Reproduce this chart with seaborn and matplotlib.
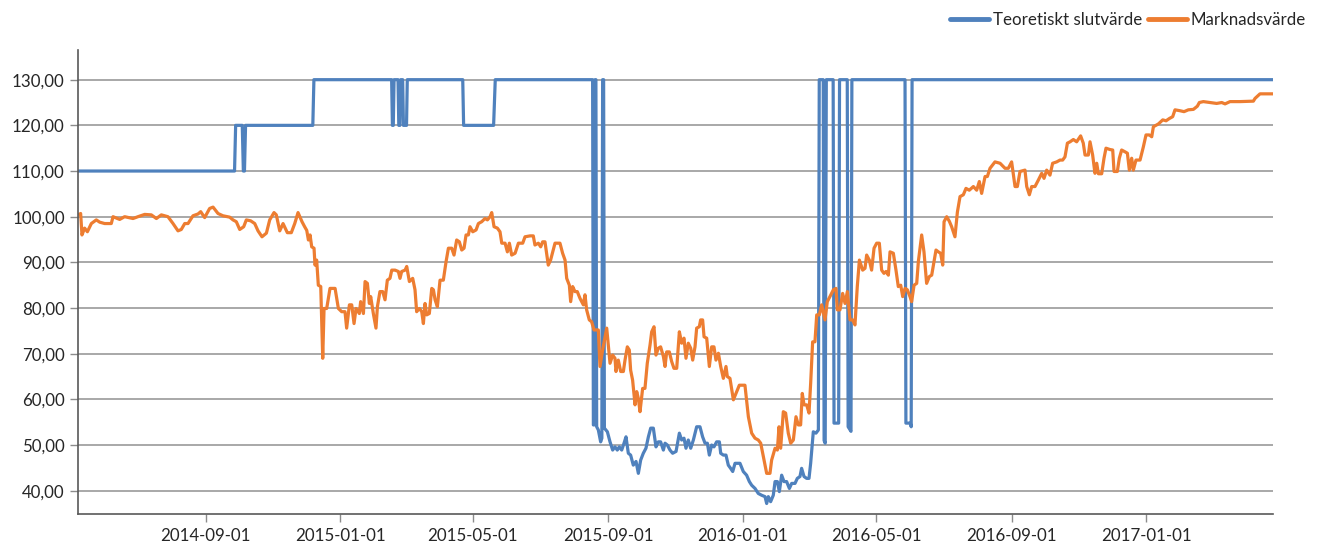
import numpy as np
import pandas as pd
import matplotlib
matplotlib.use("Agg")
import matplotlib.pyplot as plt
import matplotlib.dates as mdates
from matplotlib.ticker import FuncFormatter
import seaborn as sns

# ── Data (days counted from START) ─────────────────────────

START = "2014-05-08"
END_DAY = 1084

market_days = [
    1.0, 2.4, 3.6, 6.0, 8.5, 12.1, 16.6, 19.7, 24.2, 30.2, 31.8, 37.8, 42.3, 49.9,
    54.4, 60.5, 66.5, 71.1, 75.6, 81.6, 86.2, 90.7, 93.7, 96.8, 99.8, 104.3, 108.9,
    111.3, 114.9, 119.4, 122.5, 127.0, 131.5, 137.6, 140.6, 143.6, 146.7, 150.3,
    152.7, 156.6, 160.3, 163.3, 166.9, 170.9, 173.9, 177.8, 179.9, 183.0, 186.0,
    189.9, 193.5, 196.6, 199.6, 203.2, 205.6, 207.5, 209.0, 210.5, 212.0, 214.1,
    215.0, 216.5, 218.0, 220.2, 222.0, 223.2, 225.6, 228.6, 233.2, 236.2, 239.2,
    242.2, 243.7, 246.2, 248.3, 250.4, 252.2, 255.2, 256.4, 258.9, 260.4, 262.5,
    264.3, 265.5, 267.9, 270.3, 271.6, 273.9, 276.4, 278.5, 280.6, 283.0, 284.6,
    287.6, 290.6, 292.1, 293.6, 296.7, 298.2, 300.6, 303.6, 305.7, 307.2, 309.7,
    311.8, 313.3, 314.8, 316.3, 318.7, 320.9, 322.4, 323.9, 326.0, 328.4, 331.4,
    333.9, 336.0, 339.0, 341.1, 343.5, 345.9, 348.1, 350.2, 352.0, 354.1, 355.6,
    358.1, 361.1, 363.2, 366.2, 369.2, 371.4, 373.8, 375.3, 377.4, 380.4, 382.8,
    384.4, 387.4, 389.5, 391.3, 393.4, 396.5, 399.5, 403.4, 405.5, 410.1, 413.0,
    414.5, 417.6, 419.7, 421.5, 423.6, 426.6, 428.7, 432.7, 437.2, 439.6, 441.8,
    443.3, 445.7, 446.9, 448.7, 450.8, 452.9, 455.4, 458.4, 459.9, 461.4, 463.8,
    465.9, 468.1, 472.0, 473.5, 475.9, 479.6, 482.6, 485.0, 487.1, 488.0, 490.1,
    492.3, 494.7, 496.2, 498.3, 500.1, 501.3, 503.1, 505.3, 506.8, 508.3, 509.8,
    512.2, 514.3, 516.4, 518.9, 520.4, 522.5, 524.3, 526.4, 528.5, 531.0, 532.5,
    534.0, 536.4, 538.5, 540.6, 543.1, 545.5, 547.6, 549.7, 551.5, 553.6, 555.8,
    557.6, 559.7, 561.2, 563.6, 564.8, 566.6, 567.9, 570.3, 572.7, 574.8, 576.9,
    578.7, 580.9, 583.0, 585.4, 587.8, 589.0, 591.4, 593.0, 594.5, 596.9, 599.9,
    605.0, 608.1, 611.1, 614.1, 617.1, 619.3, 621.7, 624.7, 627.7, 629.2, 632.3,
    634.4, 635.9, 637.4, 639.8, 641.9, 644.3, 646.5, 648.9, 651.3, 653.4, 655.5,
    657.0, 658.6, 661.0, 663.1, 664.6, 666.4, 668.5, 670.1, 672.5, 674.6, 677.6,
    679.7, 682.1, 685.2, 687.6, 688.8, 691.2, 693.6, 695.8, 697.9, 700.3, 702.7,
    704.8, 706.9, 708.8, 711.8, 713.9, 715.4, 717.8, 719.9, 722.1, 724.5, 726.9,
    729.0, 731.1, 733.0, 735.1, 736.6, 739.6, 742.0, 744.1, 746.3, 748.1, 750.2,
    752.3, 754.7, 756.2, 758.4, 760.8, 762.3, 765.3, 767.4, 769.8, 772.3, 774.4,
    776.5, 778.3, 780.4, 782.5, 784.4, 785.6, 788.0, 790.4, 792.5, 795.5, 797.7,
    800.1, 803.1, 805.5, 808.5, 812.2, 815.2, 817.6, 819.7, 822.8, 824.9, 827.3,
    831.8, 836.4, 840.9, 843.9, 846.9, 850.0, 852.1, 854.5, 859.0, 860.6, 863.0,
    865.1, 868.1, 871.1, 874.2, 876.3, 878.7, 881.7, 884.1, 887.8, 890.8, 893.2,
    895.3, 897.5, 899.9, 902.9, 905.9, 909.5, 911.9, 913.5, 916.5, 918.0, 920.4,
    922.5, 924.1, 925.6, 928.6, 930.7, 932.5, 936.2, 938.6, 939.8, 942.8, 944.6,
    946.7, 949.8, 951.9, 953.7, 955.8, 957.3, 959.7, 963.4, 966.4, 968.8, 971.8,
    974.0, 975.5, 980.0, 984.0, 987.0, 990.0, 993.0, 995.1, 999.7, 1003.3, 1007.2,
    1011.8, 1015.4, 1017.2, 1020.8, 1026.9, 1032.9, 1037.5, 1040.5, 1045.0, 1054.1,
    1066.2, 1067.7, 1072.2, 1084.0,
]

market_vals = [
    100.5, 100.7, 96.0, 97.5, 96.7, 98.5, 99.3, 98.8, 98.5, 98.5, 100.0, 99.4, 100.0, 99.6,
    100.0, 100.5, 100.4, 99.6, 100.4, 100.0, 98.5, 96.9, 97.2, 98.5, 98.5, 100.2, 100.6,
    101.1, 99.8, 101.8, 102.1, 100.7, 100.2, 99.9, 99.3, 98.9, 97.2, 97.8,
    99.3, 99.1, 98.5, 96.9, 95.6, 96.4, 99.3, 100.9, 100.4, 96.9, 98.5,
    96.5, 96.5, 98.5, 100.9, 98.9, 97.8, 97.0, 94.9, 96.0, 93.4, 93.1,
    89.4, 90.5, 85.0, 84.7, 69.0, 79.9, 79.9, 84.3, 84.3, 79.9, 79.2,
    79.2, 75.6, 80.7, 80.7, 76.6, 79.9, 78.8, 81.4, 78.8, 85.8, 85.4,
    81.0, 82.5, 78.8, 75.6, 80.3, 83.6, 83.6, 81.8, 86.1, 86.5, 88.3,
    88.3, 88.0, 86.5, 88.0, 88.3, 89.1, 85.8, 86.5, 84.0, 79.2, 79.9,
    79.2, 76.6, 81.0, 78.5, 78.8, 84.3, 84.0, 81.8, 80.3, 86.1, 86.1,
    90.2, 93.1, 93.1, 91.6, 94.9, 94.5, 92.7, 93.1, 96.0, 96.0, 97.8,
    96.7, 97.1, 98.5, 98.9, 99.6, 99.3, 100.0, 100.9, 97.8, 97.5, 96.7,
    94.2, 94.2, 92.3, 94.2, 91.6, 92.0, 94.2, 94.2, 95.6, 95.8, 95.8,
    93.8, 94.2, 93.4, 94.5, 94.5, 89.4, 90.5, 94.2, 94.2, 92.0, 90.5,
    86.5, 85.0, 81.4, 84.7, 83.6, 83.6, 82.1, 80.7, 82.9, 79.6, 77.4,
    77.0, 75.2, 75.2, 67.2, 70.8, 75.6, 67.9, 69.7, 69.0, 66.1, 68.6,
    66.1, 66.1, 68.6, 71.5, 70.8, 66.4, 64.2, 58.8, 61.7, 60.2, 57.3,
    62.4, 62.4, 67.9, 71.9, 74.8, 75.9, 69.7, 71.2, 71.5, 69.4, 67.2,
    70.4, 70.4, 68.3, 66.8, 66.8, 74.8, 72.3, 73.4, 69.0, 72.3, 71.2,
    68.6, 71.5, 75.6, 75.9, 77.4, 77.4, 73.7, 73.4, 67.2, 71.5, 71.5,
    68.6, 70.1, 67.2, 64.6, 67.2, 65.0, 64.6, 62.1, 59.9, 61.3, 63.1,
    63.1, 56.2, 52.6, 51.5, 51.1, 50.4, 47.5, 43.8, 43.8, 46.7, 49.3,
    48.9, 54.0, 49.3, 57.3, 57.0, 52.6, 50.4, 51.1, 56.2, 54.4, 54.4,
    61.3, 58.8, 58.8, 57.0, 63.5, 72.6, 72.6, 78.5, 78.5, 80.7, 77.4,
    81.4, 82.5, 84.0, 84.3, 79.6, 79.6, 83.2, 81.0, 83.6, 77.4, 77.4,
    76.3, 84.7, 90.5, 88.3, 88.7, 91.6, 90.5, 88.3, 93.1, 94.2, 94.2,
    88.3, 87.6, 88.0, 87.2, 92.3, 92.0, 88.3, 84.7, 85.0, 82.5, 84.3,
    84.0, 82.5, 81.4, 85.0, 85.4, 90.2, 96.0, 92.3, 85.4, 86.9, 87.2,
    90.2, 92.7, 92.3, 92.0, 89.4, 98.9, 100.0, 99.0, 97.8, 95.6, 101.0,
    104.4, 104.8, 106.2, 105.8, 106.6, 105.8, 107.7, 105.1, 108.8, 108.8, 110.6,
    112.0, 111.7, 110.6, 110.6, 112.0, 106.6, 106.6, 109.9, 110.2, 106.6, 104.8,
    106.6, 106.6, 108.0, 109.5, 108.4, 110.2, 109.1, 111.7, 112.0, 112.4, 112.4,
    113.1, 116.1, 116.4, 116.9, 116.4, 117.7, 116.1, 113.5, 113.5, 116.4, 113.5,
    109.5, 111.7, 109.4, 109.4, 112.8, 115.0, 114.7, 114.6, 109.9, 109.9, 112.8,
    114.6, 114.2, 113.9, 110.2, 112.8, 110.2, 112.4, 112.4, 115.3, 117.9, 117.9,
    117.5, 119.7, 120.3, 121.2, 121.0, 121.5, 121.9, 123.4, 123.2, 123.0, 123.4,
    123.5, 124.2, 125.0, 125.2, 125.0, 124.8, 125.0, 124.7, 125.2, 125.2,
    125.3, 125.9, 126.9, 126.9,
]

theory_days = [
    0, 142, 143, 149, 150, 151, 152, 213, 214, 284.5, 285.2, 286, 286.7, 290.3,
    291, 292, 292.7, 294.5, 295.2, 298, 298.7, 349, 349.8, 377, 378.5, 466.8,
    467.5, 468.3, 469, 469.8, 470.5, 472.0, 474.1, 475.2, 475.9, 476.8, 477.5,
    480.2, 482.6, 485.0, 487.1, 489.2, 491.0, 493.2, 495.3, 497.1, 499.2, 501.3,
    503.7, 506.2, 508.3, 510.4, 512.8, 515.2, 517.4, 519.5, 521.9, 524.3, 526.4,
    528.5, 531.0, 532.5, 534.6, 537.0, 539.4, 542.5, 545.5, 547.6, 549.7, 551.5,
    553.6, 555.8, 558.2, 561.2, 564.2, 566.6, 568.8, 570.9, 572.7, 574.8, 576.9,
    579.3, 581.8, 583.0, 585.4, 587.8, 589.9, 592.0, 593.9, 596.0, 598.1, 600.5,
    603.5, 606.5, 609.0, 611.1, 614.1, 617.1, 620.2, 623.2, 624.7, 626.2, 628.3,
    630.7, 632.3, 634.4, 636.2, 638.3, 640.4, 642.8, 645.3, 647.4, 650.4, 652.5,
    654.9, 656.4, 658.6, 661.0, 663.1, 664.6, 667.0, 669.4, 671.6, 672.4, 676.0,
    676.8, 677.8, 678.8, 685.0, 685.8, 690.0, 690.8, 697.8, 698.6, 701.2, 702.0,
    750.2, 751.0, 755.0, 755.8, 756.6, 1084,
]

theory_vals = [
    110, 110, 120, 120, 110, 110, 120, 120, 130, 130, 120, 120, 130, 130,
    120, 120, 130, 130, 120, 120, 130, 130, 120, 120, 130, 130,
    54.4, 54.4, 130, 130, 54.0, 53.3, 50.7, 51.5, 130, 130, 53.7,
    52.9, 50.7, 48.9, 49.6, 48.9, 49.6, 48.9, 50.4, 51.8, 48.2, 47.8,
    45.6, 46.4, 43.8, 46.7, 48.2, 49.3, 51.8, 53.7, 53.7, 49.6, 50.7,
    50.7, 48.9, 50.4, 50.0, 48.9, 48.2, 48.6, 52.6, 51.1, 51.5, 49.3,
    51.1, 49.3, 51.1, 54.0, 54.0, 51.8, 50.4, 50.4, 47.8, 50.0, 49.6,
    50.7, 50.7, 48.2, 47.8, 47.8, 45.6, 44.9, 44.2, 46.0, 46.0, 46.0,
    44.2, 43.4, 42.0, 41.2, 40.5, 39.4, 39.0, 38.7, 37.2, 38.7, 37.6,
    39.0, 42.0, 42.0, 39.8, 43.4, 42.0, 42.0, 40.5, 41.6, 41.6, 42.7,
    43.1, 44.9, 43.1, 42.7, 42.7, 46.0, 52.9, 52.6, 53.3, 130, 130,
    51.0, 50.4, 130, 130, 54.8, 54.8, 130, 130, 54.0, 53.0, 130,
    130, 54.8, 54.8, 54.0, 130, 130,
]

SERIES_NAMES = ["Teoretiskt slutvärde", "Marknadsvärde"]
COLORS = {"Teoretiskt slutvärde": "#4f81bd", "Marknadsvärde": "#ed7d31"}
Y_TICKS = [40, 50, 60, 70, 80, 90, 100, 110, 120, 130]


def to_dates(days):
    return pd.Timestamp(START) + pd.to_timedelta(np.asarray(days, dtype=float), unit="D")


theory_df = pd.DataFrame({"date": to_dates(theory_days), "value": theory_vals})
market_df = pd.DataFrame({"date": to_dates(market_days), "value": market_vals})

# ── Plot ───────────────────────────────────────────────────

sns.set_style("white")
plt.rcParams["font.family"] = ["Lato", "DejaVu Sans"]

fig = plt.figure(figsize=(13.18, 5.43), dpi=100)
ax = fig.add_axes([78 / 1318, 1 - 514 / 543, (1273 - 78) / 1318, (514 - 50) / 543])

sns.lineplot(data=theory_df, x="date", y="value", ax=ax, color=COLORS[SERIES_NAMES[0]],
             linewidth=2.3, estimator=None, sort=False, label=SERIES_NAMES[0])
sns.lineplot(data=market_df, x="date", y="value", ax=ax, color=COLORS[SERIES_NAMES[1]],
             linewidth=2.3, estimator=None, sort=False, label=SERIES_NAMES[1])

ax.set_xlim(pd.Timestamp(START), pd.Timestamp(START) + pd.Timedelta(days=END_DAY))
ax.set_ylim(34.9, 136.5)
ax.set_yticks(Y_TICKS)
ax.yaxis.set_major_formatter(FuncFormatter(lambda v, _: f"{v:.2f}".replace(".", ",")))
ax.xaxis.set_major_locator(mdates.MonthLocator(bymonth=[1, 5, 9]))
ax.xaxis.set_major_formatter(mdates.DateFormatter("%Y-%m-%d"))
ax.set_xlabel(""); ax.set_ylabel("")

ax.yaxis.grid(True, color="#9a9a9a", linewidth=1.2)
ax.set_axisbelow(True)
ax.spines[["top", "right"]].set_visible(False)
for side in ["left", "bottom"]:
    ax.spines[side].set_color("#595959")
    ax.spines[side].set_linewidth(1.2)
ax.tick_params(axis="both", which="major", length=6, width=1, color="#8c8c8c",
               labelsize=12.2, labelcolor="#262626", bottom=True, left=True)
ax.tick_params(axis="x", pad=4)

ax.legend(loc="upper right", bbox_to_anchor=(1318 / 1318, 1.0), bbox_transform=fig.transFigure,
          ncol=2, frameon=False, fontsize=12.2, handlelength=2.3, handletextpad=0.25,
          columnspacing=0.3, borderaxespad=0.3)
for line in ax.get_legend().get_lines():
    line.set_linewidth(3.5)

fig.savefig("out.png", dpi=100)
